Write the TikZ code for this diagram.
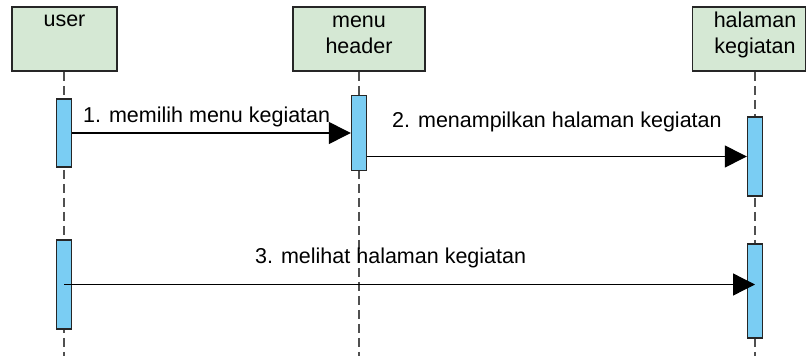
\documentclass[tikz,border=0pt]{standalone}
\usepackage{fontspec}
\setmainfont{Liberation Sans}
\usetikzlibrary{arrows.meta}
\definecolor{headfill}{HTML}{D5E8D4}
\definecolor{actfill}{HTML}{7ACDF3}
\definecolor{lifegray}{HTML}{505050}
\begin{document}
\begin{tikzpicture}[x=1pt,y=-1pt,
  head/.style={rectangle,draw=black!85,line width=1.6pt,fill=headfill,minimum height=64pt,inner sep=0pt},
  headtxt/.style={anchor=base,align=center,inner sep=0pt,font=\fontsize{21.5}{26}\selectfont},
  act/.style={rectangle,draw=black!85,line width=1.4pt,fill=actfill,minimum width=15pt,inner sep=0pt},
  life/.style={lifegray,line width=1.8pt,dash pattern=on 9pt off 5pt},
  msg/.style={line width=1.3pt,-{Triangle[length=22pt,width=22pt]}},
  msgtxt/.style={anchor=base west,inner sep=0pt,font=\fontsize{21.5}{26}\selectfont}]
  \useasboundingbox (0,0) rectangle (806,356);

  \node[head,minimum width=105pt] (user) at (64.5,39) {};
  \node[head,minimum width=132pt] (menu) at (359,39) {};
  \node[head,minimum width=113pt] (hal) at (749,39) {};
  % base of a two-line text is its last line
  \node[headtxt] (usertxt) at (64.5,27) {user};
  \node[headtxt] (menutxt) at (359,53) {menu\\header};
  \node[headtxt] (haltxt) at (755,53) {halaman\\kegiatan};

  \coordinate (userend) at (64,356);
  \coordinate (menuend) at (359,356);
  \coordinate (halend) at (755,356);
  \draw[life] (user.south -| userend) -- (userend);
  \draw[life] (menu.south) -- (menuend);
  \draw[life] (hal.south -| halend) -- (halend);

  \node[act,minimum height=68pt] (ua1) at (64,133) {};
  \node[act,minimum height=75pt] (ma1) at (359,133) {};
  \node[act,minimum height=79pt] (ha1) at (755,156.5) {};
  \node[act,minimum height=89pt] (ua2) at (64,284.5) {};
  \node[act,minimum height=94pt] (ha2) at (755,291) {};

  \draw[msg] (ua1.east) -- (ma1.west);
  \draw[msg] (ma1.east |- ha1.west) -- (ha1.west);
  \draw[msg] (ua2.center) -- (ua2.center -| ha2.center);

  \node[msgtxt] (m1) at (83,122) {1. memilih menu kegiatan};
  \node[msgtxt] (m2) at (392,127) {2. menampilkan halaman kegiatan};
  \node[msgtxt] (m3) at (255,263) {3. melihat halaman kegiatan};
\end{tikzpicture}
\end{document}
